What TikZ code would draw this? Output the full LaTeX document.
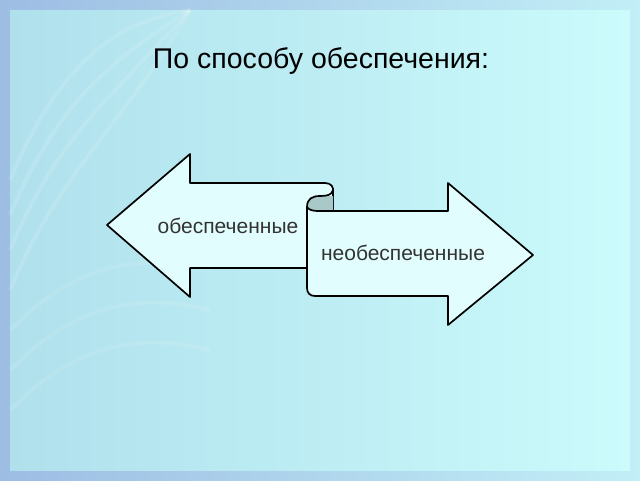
\documentclass[tikz,border=0pt]{standalone}
\usepackage{fontspec}
\setmainfont{Liberation Sans}
\usetikzlibrary{positioning}
\definecolor{frameblue}{HTML}{9DBDE3}
\definecolor{paneleft}{HTML}{B0E0EC}
\definecolor{paneright}{HTML}{CBFBFB}
\definecolor{arrowfill}{HTML}{E2FDFD}
\definecolor{curlfill}{HTML}{A9C8C8}
\definecolor{labelgray}{HTML}{333333}

\begin{document}
\begin{tikzpicture}[%
        x=1pt, y=-1pt,
        every node/.style={inner sep=0pt},
        label/.style={font=\fontsize{21}{24}\selectfont, text=labelgray},
        shape line/.style={draw=black, line width=1.7pt, line join=round}
      ]
      \useasboundingbox (0,0) rectangle (640,480);
      % background
      \shade[left color=frameblue, right color=paneright!80!frameblue] (0,0) rectangle (640,480);
      \shade[left color=paneleft, right color=paneright] (10,10) rectangle (630,470);
      \foreach \r in {60,95,130,170}
        \draw[white, opacity=0.12, line width=4pt] (10,\r+120) .. controls (60,\r) and (120,\r-40) .. (190,10);
      \foreach \r in {330,370,410}
        \draw[white, opacity=0.1, line width=4pt] (10,\r) .. controls (70,\r-60) and (130,\r-80) .. (210,\r-60);

      \node (title) at (321,61) {\fontsize{28.5}{34}\selectfont По способу обеспечения:};

      % left arrow
      \draw[shape line, fill=arrowfill] (307,268) -- (190,268) -- (190,297) -- (107,225)
        -- (190,154) -- (190,183) -- (325,183) .. controls (331,183) and (334,187) .. (333,192)
        -- (333,211);
      \node[label] (left) at (228,226) {обеспеченные};

      % curl
      \fill[curlfill] (307,207) .. controls (307,199) and (312,196) .. (320,196) -- (333,196)
        -- (333,211) -- (318,211) .. controls (311,211) and (307,209) .. (307,207);
      \draw[shape line] (333,190) .. controls (332,195) and (327,196) .. (320,196)
        .. controls (312,196) and (307,199) .. (307,207);

      % right arrow
      \fill[arrowfill] (307,211) -- (448,211) -- (448,183) -- (533,255) -- (448,325)
        -- (448,296) -- (315,296) .. controls (310,296) and (307,293) .. (307,288) -- cycle;
      \draw[shape line] (307,207) -- (307,288) .. controls (307,293) and (310,296) .. (315,296)
        -- (448,296) -- (448,325) -- (533,255) -- (448,183) -- (448,211) -- (333,211);
      \draw[shape line] (307,207) .. controls (309,210) and (313,211) .. (318,211) -- (333,211);
      \node[label] (right) at (403,253) {необеспеченные};
\end{tikzpicture}
\end{document}
